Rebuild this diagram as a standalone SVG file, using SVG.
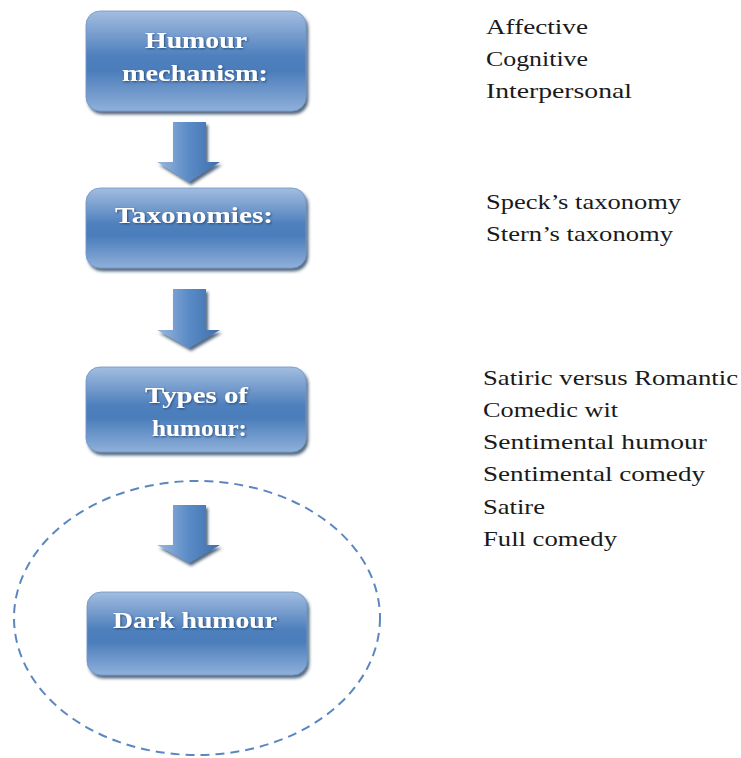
<svg xmlns="http://www.w3.org/2000/svg" width="741" height="758" viewBox="0 0 741 758">
  <defs>
    <linearGradient id="boxFill" x1="0" y1="0" x2="0" y2="1">
      <stop offset="0" stop-color="#a3bde0"/>
      <stop offset="0.45" stop-color="#4f80bd"/>
      <stop offset="0.6" stop-color="#4b7dbb"/>
      <stop offset="1" stop-color="#8fb0da"/>
    </linearGradient>
    <linearGradient id="arrowFill" x1="0" y1="0" x2="1" y2="0">
      <stop offset="0" stop-color="#9ab8de"/>
      <stop offset="0.5" stop-color="#5a8bc6"/>
      <stop offset="1" stop-color="#3f6fab"/>
    </linearGradient>
    <filter id="shadow" x="-10%" y="-10%" width="125%" height="130%">
      <feDropShadow dx="2" dy="3" stdDeviation="1.5" flood-color="#1f3554" flood-opacity="0.75"/>
    </filter>
    <filter id="glow" x="-10%" y="-20%" width="120%" height="150%">
      <feDropShadow dx="1" dy="1" stdDeviation="0.8" flood-color="#1d3a63" flood-opacity="0.8"/>
    </filter>
  </defs>
  <style>
    .box { fill: url(#boxFill); stroke: #6f95c6; stroke-width: 0.8; filter: url(#shadow); }
    .arrow { fill: url(#arrowFill); filter: url(#shadow); }
    .label { font-family: "Liberation Serif", "Times New Roman", serif; font-weight: bold; font-size: 24px; fill: #ffffff; filter: url(#glow); }
    .item { font-family: "Liberation Serif", "Times New Roman", serif; font-size: 22px; fill: #1a1a1a; }
    .ring { fill: none; stroke: #5b87c0; stroke-width: 2; stroke-dasharray: 9 6; }
  </style>

  <!-- dashed boundary around the final stage -->
  <ellipse class="ring" cx="197" cy="618" rx="183" ry="137"/>

  <!-- connectors: block arrows between stages -->
  <g id="connectors">
    <path class="arrow" d="M173,122 H206 V162 H220 L189,182 L157,162 H173 Z"/>
    <path class="arrow" d="M173,289 H206 V330 H220 L189,348 L157,330 H173 Z"/>
    <path class="arrow" d="M173,505 H206 V545 H220 L189,563 L157,545 H173 Z"/>
  </g>

  <g id="node-mechanism">
    <rect class="box" x="86" y="11" width="220" height="100" rx="14"/>
    <text class="label" x="145" y="48" textLength="102" lengthAdjust="spacingAndGlyphs">Humour</text>
    <text class="label" x="122" y="81" textLength="146" lengthAdjust="spacingAndGlyphs">mechanism:</text>
  </g>

  <g id="node-taxonomies">
    <rect class="box" x="86" y="188" width="220" height="80" rx="14"/>
    <text class="label" x="115" y="223" textLength="158" lengthAdjust="spacingAndGlyphs">Taxonomies:</text>
  </g>

  <g id="node-types">
    <rect class="box" x="86" y="367" width="220" height="85" rx="14"/>
    <text class="label" x="145" y="403" textLength="103" lengthAdjust="spacingAndGlyphs">Types of</text>
    <text class="label" x="152" y="436" textLength="95" lengthAdjust="spacingAndGlyphs">humour:</text>
  </g>

  <g id="node-dark">
    <rect class="box" x="87" y="592" width="220" height="83" rx="14"/>
    <text class="label" x="113" y="628" textLength="164" lengthAdjust="spacingAndGlyphs">Dark humour</text>
  </g>

  <g id="list-mechanism">
    <text class="item" x="486" y="34" textLength="102" lengthAdjust="spacingAndGlyphs">Affective</text>
    <text class="item" x="486" y="66" textLength="102" lengthAdjust="spacingAndGlyphs">Cognitive</text>
    <text class="item" x="486" y="98" textLength="146" lengthAdjust="spacingAndGlyphs">Interpersonal</text>
  </g>

  <g id="list-taxonomies">
    <text class="item" x="486" y="209" textLength="195" lengthAdjust="spacingAndGlyphs">Speck’s taxonomy</text>
    <text class="item" x="486" y="241" textLength="187" lengthAdjust="spacingAndGlyphs">Stern’s taxonomy</text>
  </g>

  <g id="list-types">
    <text class="item" x="483" y="385" textLength="255" lengthAdjust="spacingAndGlyphs">Satiric versus Romantic</text>
    <text class="item" x="483" y="417" textLength="135" lengthAdjust="spacingAndGlyphs">Comedic wit</text>
    <text class="item" x="483" y="449" textLength="224" lengthAdjust="spacingAndGlyphs">Sentimental humour</text>
    <text class="item" x="483" y="481" textLength="222" lengthAdjust="spacingAndGlyphs">Sentimental comedy</text>
    <text class="item" x="483" y="514" textLength="62" lengthAdjust="spacingAndGlyphs">Satire</text>
    <text class="item" x="483" y="546" textLength="134" lengthAdjust="spacingAndGlyphs">Full comedy</text>
  </g>
</svg>
